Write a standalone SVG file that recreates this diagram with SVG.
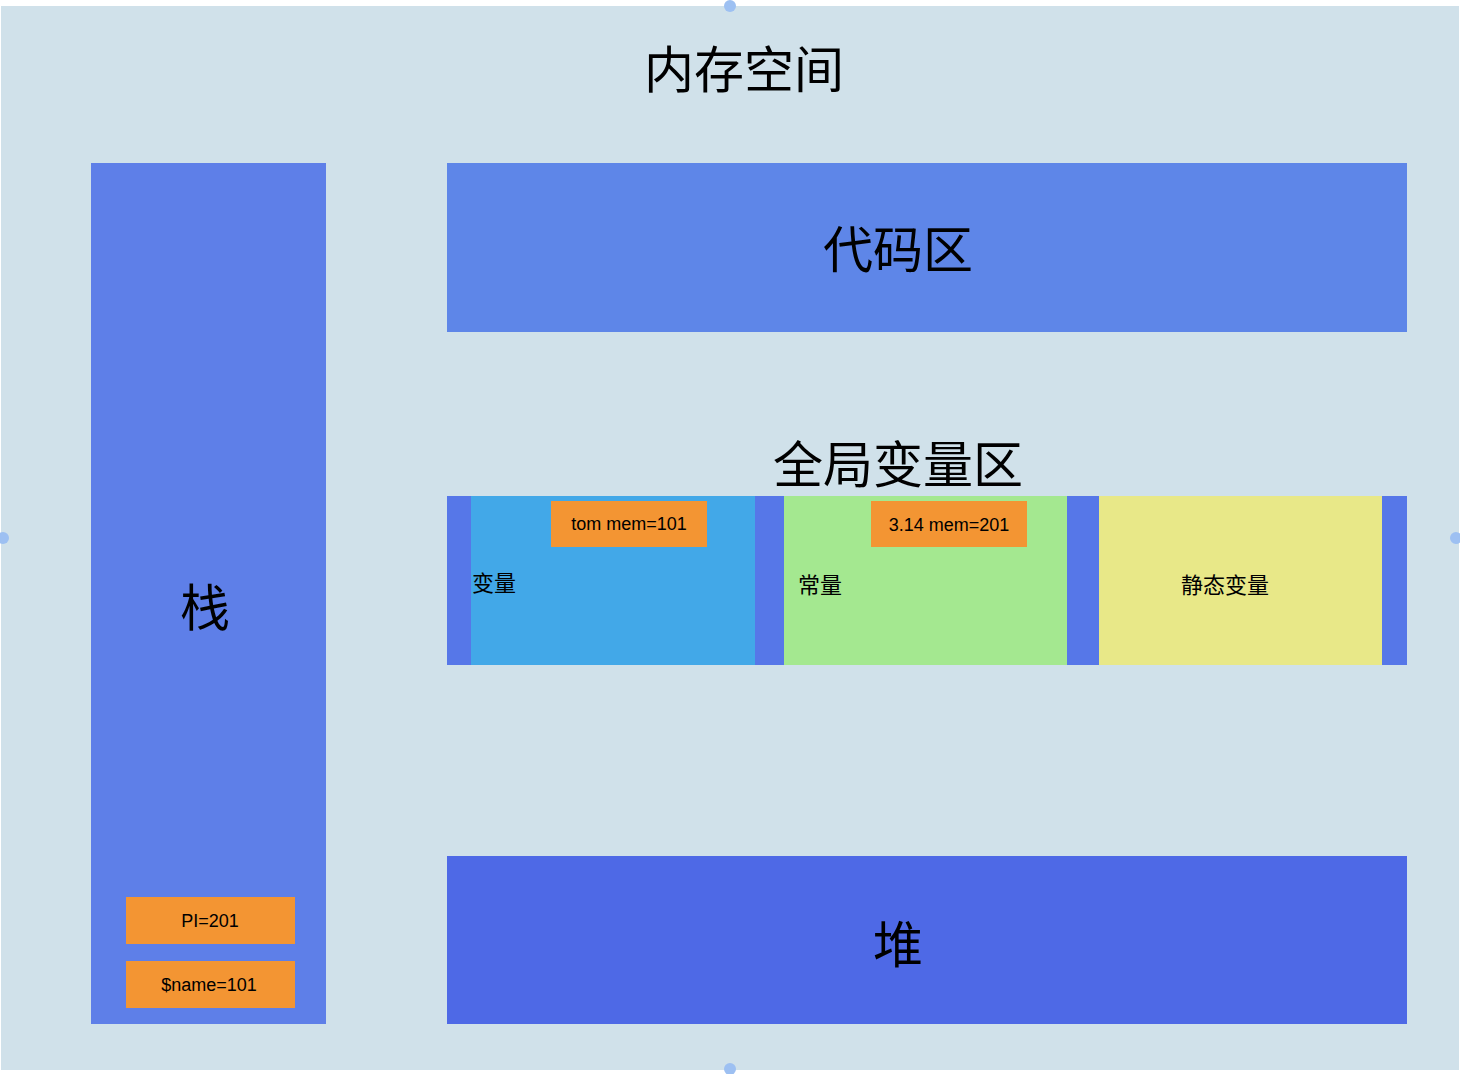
<svg xmlns="http://www.w3.org/2000/svg" width="1460" height="1074" viewBox="0 0 1460 1074">
<style>
text{font-family:"Noto Sans CJK SC","Liberation Sans",sans-serif;fill:#000;text-anchor:middle;dominant-baseline:central}
.big{font-size:50px}
.mid{font-size:22px}
.sm{font-size:18px;font-family:"Liberation Sans","Noto Sans CJK SC",sans-serif}
.or{fill:#F39533}
.h{fill:#9DC0F2}
</style>
<rect width="1460" height="1074" fill="#fff"/>
<g id="memory"><rect x="1" y="6" width="1458" height="1064" fill="#D0E1EA"/><text x="744" y="66" class="big">内存空间</text></g>
<g id="stack"><rect x="91" y="163" width="235" height="861" fill="#5E7FE8"/><text x="205" y="604" class="big">栈</text></g>
<g id="pi"><rect x="126" y="897" width="169" height="47" class="or"/><text x="210" y="921" class="sm">PI=201</text></g>
<g id="name"><rect x="126" y="961" width="169" height="47" class="or"/><text x="209" y="985" class="sm">$name=101</text></g>
<g id="code"><rect x="447" y="163" width="960" height="169" fill="#5E86E8"/><text x="898" y="246" class="big">代码区</text></g>
<g id="global"><rect x="447" y="496" width="960" height="169" fill="#5677E8"/><text x="898" y="461" class="big">全局变量区</text></g>
<g id="var"><rect x="471" y="496" width="284" height="169" fill="#42A8E8"/><text x="494" y="581" class="mid">变量</text></g>
<g id="tom"><rect x="551" y="501" width="156" height="46" class="or"/><text x="629" y="524" class="sm">tom  mem=101</text></g>
<g id="const"><rect x="784" y="496" width="283" height="169" fill="#A4E890"/><text x="820" y="583" class="mid">常量</text></g>
<g id="pi314"><rect x="871" y="501" width="156" height="46" class="or"/><text x="949" y="525" class="sm">3.14 mem=201</text></g>
<g id="static"><rect x="1099" y="496" width="283" height="169" fill="#E8E888"/><text x="1225" y="583" class="mid">静态变量</text></g>
<g id="heap"><rect x="447" y="856" width="960" height="168" fill="#4E69E6"/><text x="898" y="941" class="big">堆</text></g>
<g id="connectors"></g>
<g id="handles"><circle cx="730" cy="6" r="6" class="h"/><circle cx="3" cy="538" r="6" class="h"/><circle cx="1456" cy="538" r="6" class="h"/><circle cx="730" cy="1069" r="6" class="h"/></g>
</svg>
